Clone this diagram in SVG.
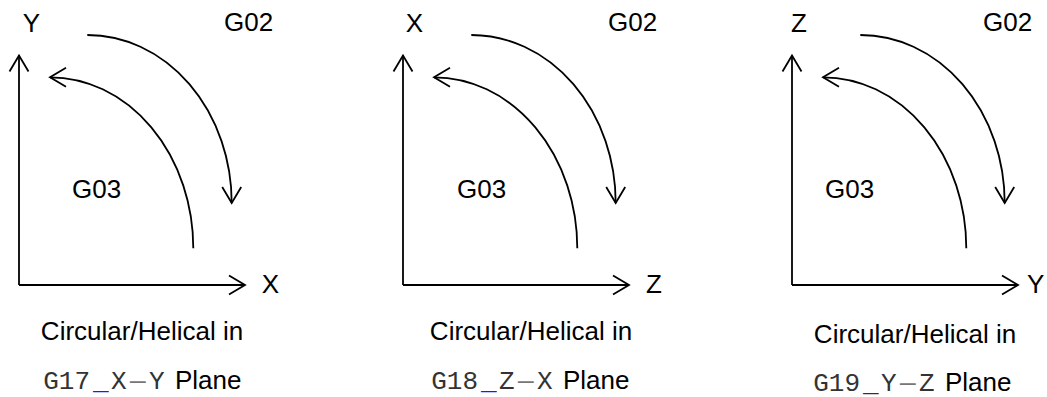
<svg xmlns="http://www.w3.org/2000/svg" width="1047" height="397" viewBox="0 0 1047 397">
<style>
.ln{fill:none;stroke:#000;stroke-width:1.8}
.t{font-family:"Liberation Sans",Arial,sans-serif;font-size:26px;fill:#000}
.m{font-family:"Liberation Mono","Courier New",monospace;font-size:26px;fill:#333}
.dash{fill:#777}
.ul{fill:#1a1aff}
</style>
<defs>
<marker id="chev" markerUnits="userSpaceOnUse" markerWidth="40" markerHeight="40" refX="20" refY="20" orient="auto" viewBox="0 0 40 40">
<path d="M4 10.5 L20 20 L4 29.5" fill="none" stroke="#000" stroke-width="1.8"/>
</marker>
</defs>
<rect width="1047" height="397" fill="#fff"/>

<g id="connectors">
<g id="p1-conn">
<path class="ln" d="M19 285 L19 55.5" marker-end="url(#chev)"/>
<path class="ln" d="M19 285 L245 285" marker-end="url(#chev)"/>
<path class="ln" d="M87.3 35 A144.4 168 0 0 1 231.7 203" marker-end="url(#chev)"/>
<path class="ln" d="M193.3 248.3 A143.3 171 0 0 0 50 77.3" marker-end="url(#chev)"/>
</g>
<g id="p2-conn" transform="translate(384,0)">
<path class="ln" d="M19 285 L19 55.5" marker-end="url(#chev)"/>
<path class="ln" d="M19 285 L245 285" marker-end="url(#chev)"/>
<path class="ln" d="M87.3 35 A144.4 168 0 0 1 231.7 203" marker-end="url(#chev)"/>
<path class="ln" d="M193.3 248.3 A143.3 171 0 0 0 50 77.3" marker-end="url(#chev)"/>
</g>
<g id="p3-conn" transform="translate(773,0)">
<path class="ln" d="M19 285 L19 55.5" marker-end="url(#chev)"/>
<path class="ln" d="M19 285 L245 285" marker-end="url(#chev)"/>
<path class="ln" d="M87.3 35 A144.4 168 0 0 1 231.7 203" marker-end="url(#chev)"/>
<path class="ln" d="M193.3 248.3 A143.3 171 0 0 0 50 77.3" marker-end="url(#chev)"/>
</g>
</g>

<g id="panel-g17">
<text class="t" x="31.5" y="32" text-anchor="middle">Y</text>
<text class="t" x="224" y="31">G02</text>
<text class="t" x="72" y="198">G03</text>
<text class="t" x="270.5" y="293" text-anchor="middle">X</text>
<text class="t" x="142" y="340" text-anchor="middle">Circular/Helical in</text>
<text y="389"><tspan class="m" x="43.2">G17</tspan><tspan class="m ul" x="93">_</tspan><tspan class="m" x="111">X</tspan><tspan class="m dash" x="130">—</tspan><tspan class="m" x="149">Y</tspan><tspan class="t" x="175">Plane</tspan></text>
</g>

<g id="panel-g18">
<text class="t" x="414.5" y="32" text-anchor="middle">X</text>
<text class="t" x="608" y="31">G02</text>
<text class="t" x="457" y="198">G03</text>
<text class="t" x="654" y="293" text-anchor="middle">Z</text>
<text class="t" x="531" y="340" text-anchor="middle">Circular/Helical in</text>
<text y="389"><tspan class="m" x="431.2">G18</tspan><tspan class="m ul" x="481">_</tspan><tspan class="m" x="499">Z</tspan><tspan class="m dash" x="518">—</tspan><tspan class="m" x="537">X</tspan><tspan class="t" x="563">Plane</tspan></text>
</g>

<g id="panel-g19">
<text class="t" x="799" y="32" text-anchor="middle">Z</text>
<text class="t" x="983" y="31">G02</text>
<text class="t" x="825" y="198">G03</text>
<text class="t" x="1027" y="293">Y</text>
<text class="t" x="915" y="343" text-anchor="middle">Circular/Helical in</text>
<text y="391"><tspan class="m" x="813.2">G19</tspan><tspan class="m" x="863">_</tspan><tspan class="m" x="881">Y</tspan><tspan class="m dash" x="900">—</tspan><tspan class="m" x="919">Z</tspan><tspan class="t" x="945">Plane</tspan></text>
</g>
</svg>
